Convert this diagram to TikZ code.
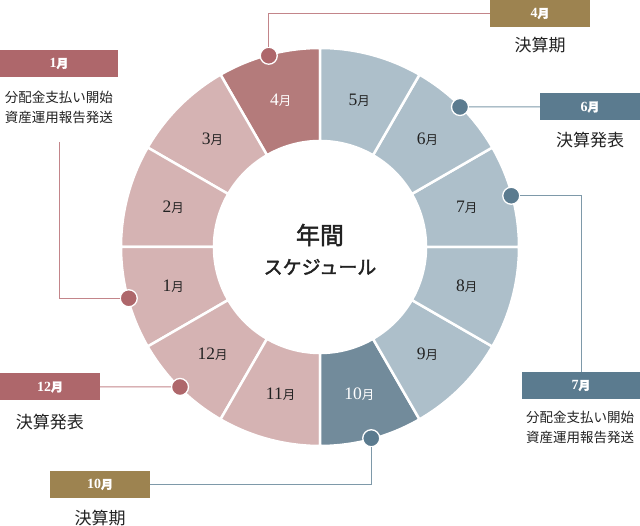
\documentclass[tikz,border=0pt]{standalone}
\usepackage{fontspec}
\setmainfont{Liberation Serif}
\newfontfamily\jp{Noto Sans CJK JP}
\newfontfamily\jpbold{Noto Sans CJK JP}[FakeBold=2]
\usepackage{tikz}
\usetikzlibrary{positioning}

\definecolor{pinklt}{HTML}{D5B3B3}
\definecolor{pinkdk}{HTML}{B47B7B}
\definecolor{bluelt}{HTML}{ADBFCA}
\definecolor{bluedk}{HTML}{728B9B}
\definecolor{redbox}{HTML}{AE676B}
\definecolor{goldbox}{HTML}{9D8350}
\definecolor{bluebox}{HTML}{5B7B8F}
\definecolor{redline}{HTML}{C3858A}
\definecolor{blueline}{HTML}{7E99A9}
\definecolor{ink}{HTML}{222222}

% month label: number, then a smaller 月
\newcommand{\tsuki}[3]{\fontsize{#2}{#2}\selectfont #1{\jp\fontsize{#3}{#3}\selectfont 月}}
\newcommand{\boxtsuki}[1]{\bfseries\fontsize{14}{14}\selectfont #1{\jpbold\fontsize{12}{12}\selectfont 月}}

\begin{document}
\begin{tikzpicture}[x=1pt, y=1pt,
    monthbox/.style={minimum height=27pt, inner sep=0pt, text=white},
    dot/.style={circle, draw=white, line width=1.3pt, minimum size=17pt, inner sep=0pt},
    note/.style={font=\jp\fontsize{17}{17}\selectfont, text=ink, inner sep=0pt},
    smallnote/.style={font=\jp\fontsize{13.5}{20}\selectfont, text=ink, align=center, inner sep=0pt}]

    \useasboundingbox (0,0) rectangle (640,526);

    % Centre of the ring
    \coordinate (C) at (320,279);

    % Ring segments
    \foreach \m/\a/\col/\tc in {4/90/pinkdk/white, 3/120/pinklt/ink, 2/150/pinklt/ink,
        1/180/pinklt/ink, 12/210/pinklt/ink, 11/240/pinklt/ink, 10/270/bluedk/white,
        9/300/bluelt/ink, 8/330/bluelt/ink, 7/0/bluelt/ink, 6/30/bluelt/ink, 5/60/bluelt/ink}{
        \pgfmathsetmacro{\b}{\a+30}
        \pgfmathsetmacro{\mid}{\a+15}
        \filldraw[fill=\col, draw=white, line width=2.5pt]
            ([shift={(\a:199)}]C) arc[start angle=\a, end angle=\b, radius=199]
            -- ([shift={(\b:106)}]C) arc[start angle=\b, end angle=\a, radius=106] -- cycle;
        \node[text=\tc] (seg\m) at ([shift={(\mid:152)}]C) {\tsuki{\m}{17.5}{12.5}};
    }

    % Title
    \node[font=\jpbold\fontsize{24}{24}\selectfont, text=ink] (title) at (320,291) {年間};
    \node[font=\jpbold\fontsize{19}{19}\selectfont, text=ink] (subtitle) at (320,259) {スケジュール};

    % Dots on the ring
    \node[dot, fill=redbox] (dot4) at ([shift={(105:198)}]C) {};
    \node[dot, fill=bluebox] (dot6) at ([shift={(45:198)}]C) {};
    \node[dot, fill=bluebox] (dot7) at ([shift={(15:198)}]C) {};
    \node[dot, fill=redbox] (dot1) at ([shift={(195:198)}]C) {};
    \node[dot, fill=redbox] (dot12) at ([shift={(225:198)}]C) {};
    \node[dot, fill=bluebox] (dot10) at ([shift={(285:198)}]C) {};

    % Month boxes
    \node[monthbox, fill=goldbox, minimum width=100pt] (box4) at (540,512.5) {\boxtsuki{4}};
    \node[monthbox, fill=bluebox, minimum width=100pt] (box6) at (590,419) {\boxtsuki{6}};
    \node[monthbox, fill=bluebox, minimum width=118pt] (box7) at (581,140.5) {\boxtsuki{7}};
    \node[monthbox, fill=redbox, minimum width=118pt] (box1) at (59,462.5) {\boxtsuki{1}};
    \node[monthbox, fill=redbox, minimum width=100pt] (box12) at (50,139) {\boxtsuki{12}};
    \node[monthbox, fill=goldbox, minimum width=100pt] (box10) at (100,41.5) {\boxtsuki{10}};

    % Notes
    \node[note] (note4) at (540,481) {決算期};
    \node[note] (note6) at (590,386) {決算発表};
    \node[smallnote] (note7) at (580,99) {分配金支払い開始\\資産運用報告発送};
    \node[smallnote] (note1) at (59,419) {分配金支払い開始\\資産運用報告発送};
    \node[note] (note12) at (50,104) {決算発表};
    \node[note] (note10) at (100,8) {決算期};

    % Connectors
    \coordinate (tail1) at (59,384);
    \draw[redline, line width=1pt] (dot4) |- (box4.west);
    \draw[blueline, line width=1pt] (dot6) -- (box6.west);
    \draw[blueline, line width=1pt] (dot7) -| (box7.north);
    \draw[redline, line width=1pt] (tail1) |- (dot1);
    \draw[redline, line width=1pt] (box12.east) -- (dot12);
    \draw[blueline, line width=1pt] (box10.east) -| (dot10);

\end{tikzpicture}
\end{document}
